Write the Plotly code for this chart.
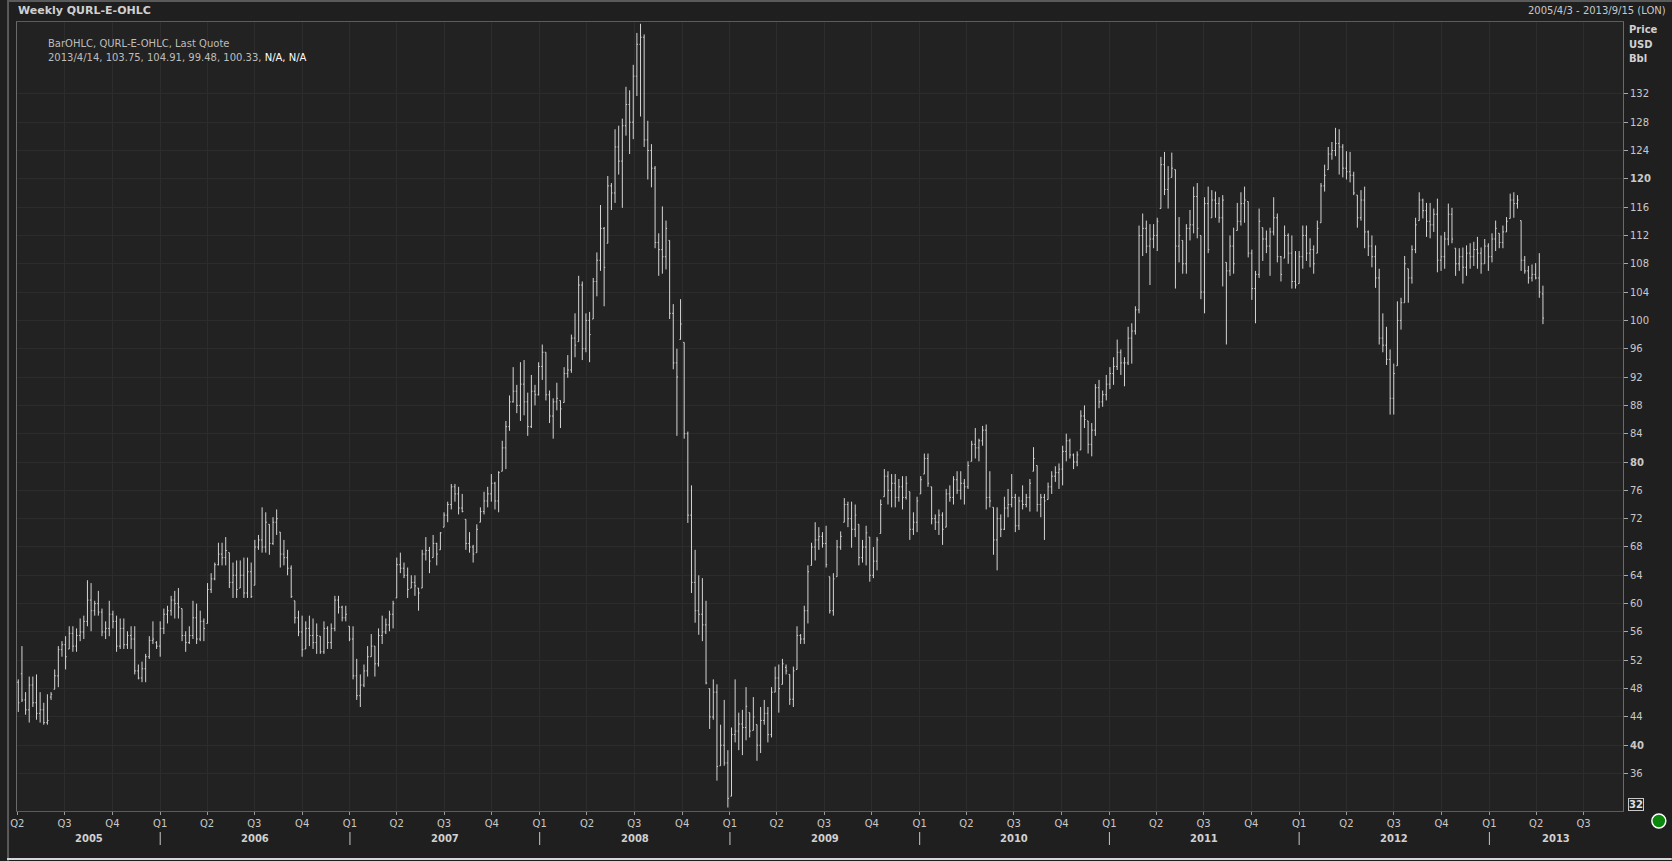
import pandas as pd
import plotly.graph_objects as go

# ---------------- data (weekly bars) ----------------
start_date = "2005-04-03"
n_weeks = 420

highs = [
 49.3,54.0,47.5,49.7,49.7,50.0,47.5,46.0,47.2,47.5, 50.7,54.0,54.7,55.4,56.8,56.8,56.5,57.9,58.3,63.3,
 62.9,60.4,61.8,59.3,57.5,60.4,59.0,58.3,57.9,57.9, 56.1,56.8,56.8,51.4,51.8,52.9,55.4,57.5,54.7,57.5,
 59.3,59.7,61.1,61.8,62.2,59.3,56.1,56.8,60.4,60.0, 59.0,57.9,62.9,64.3,65.8,68.6,68.6,69.4,67.2,65.8,
 66.1,66.1,66.5,66.5,65.8,69.0,69.7,73.6,72.9,71.2, 72.2,73.3,70.1,69.0,67.6,65.4,60.4,59.0,58.3,57.5,
 58.3,57.9,57.2,55.4,57.5,56.8,57.2,61.1,61.1,59.7, 59.7,56.8,56.8,52.2,50.0,51.4,54.0,55.7,54.0,56.5,
 58.3,57.9,59.0,60.4,66.5,67.2,65.8,65.1,64.0,64.0, 62.2,67.6,69.4,68.0,69.7,68.6,70.1,72.9,74.4,76.9,
 76.9,76.5,75.5,71.9,70.1,68.3,71.2,73.6,75.8,76.5, 78.3,77.2,78.7,83.0,85.8,89.4,93.4,90.9,94.1,94.4,
 89.8,92.3,90.9,94.1,96.6,95.5,90.1,89.0,91.2,88.7, 93.4,95.1,98.0,101.0,106.3,105.5,101.0,101.2,106.0,109.6,
 116.3,113.2,120.4,119.4,127.0,127.5,128.5,133.0,132.5,136.1, 140.6,141.9,140.4,128.2,124.9,121.8,112.3,116.1,114.1,111.3,
 102.3,96.0,103.0,96.9,84.3,76.7,67.6,64.0,63.6,60.4, 48.0,49.3,48.6,42.9,46.4,39.3,42.5,49.3,44.6,45.0,
 48.2,44.6,46.8,42.9,45.4,46.4,45.4,48.2,51.1,51.4, 52.2,51.4,50.0,51.1,56.8,55.7,59.7,65.4,68.6,71.5,
 70.8,70.1,71.0,63.8,64.3,69.0,70.2,74.9,74.4,74.4, 74.0,71.2,69.0,71.0,69.4,68.0,69.4,74.7,79.0,78.7,
 78.3,78.3,77.6,78.0,78.0,75.8,72.9,75.1,78.0,81.2, 81.2,76.5,72.6,73.3,72.9,76.2,76.7,78.0,78.7,78.7,
 77.6,80.1,83.0,84.8,83.3,85.1,85.3,78.7,73.6,73.6, 72.6,75.1,76.2,78.3,75.5,75.1,76.7,75.5,77.6,82.1,
 79.5,75.5,75.5,77.1,78.7,79.4,79.8,82.3,84.0,83.3, 81.2,81.5,87.3,88.0,85.8,85.5,91.0,91.6,90.1,92.3,
 93.4,94.8,97.3,95.9,94.8,99.1,99.6,102.0,113.4,115.1, 114.1,113.6,113.6,114.5,123.1,123.8,121.8,123.7,121.3,114.6,
 111.3,113.6,115.6,118.9,119.4,112.0,117.4,118.9,118.4,118.2, 117.4,117.7,108.2,112.0,113.1,116.6,118.1,118.9,116.8,110.0,
 107.0,115.8,113.1,112.7,113.1,117.4,115.1,109.1,113.4,112.3, 112.0,109.8,109.8,113.4,113.4,111.6,110.6,114.1,119.4,122.0,
 124.5,125.2,127.2,127.0,124.9,123.9,123.8,121.0,117.7,118.4, 118.9,112.7,112.0,110.6,107.3,101.0,99.1,95.9,93.9,102.7,
 103.2,109.1,107.3,110.6,114.5,118.1,117.2,116.6,116.6,115.8, 117.2,112.0,112.5,116.5,115.9,110.2,110.2,110.3,110.6,110.9,
 111.1,111.8,110.3,111.5,110.9,112.3,114.1,112.3,113.4,114.6, 117.9,118.1,117.7,114.1,109.1,107.7,107.9,108.1,109.5,104.91,
]

lows = [
 44.7,46.1,44.3,43.2,45.4,43.6,43.2,42.9,42.9,46.4, 47.9,48.2,52.5,50.7,53.6,53.2,53.2,54.7,55.0,56.8,
 56.1,58.3,58.3,55.4,55.0,55.4,56.5,53.2,53.6,53.6, 53.6,53.6,50.0,49.3,48.9,48.9,52.2,54.3,53.6,52.5,
 55.7,57.2,58.3,57.9,57.9,54.7,53.2,54.3,55.0,54.3, 54.7,54.7,57.2,61.5,63.3,65.4,65.4,65.4,62.2,60.8,
 60.8,62.2,60.8,60.8,60.8,62.6,67.6,67.2,67.2,66.9, 68.3,69.7,65.1,65.4,64.0,60.8,57.2,55.4,52.5,53.6,
 54.0,53.6,52.9,52.9,52.9,53.6,53.6,56.1,58.6,57.5, 57.5,54.7,49.3,46.4,45.4,48.2,49.7,52.5,49.7,51.1,
 54.3,55.7,56.1,56.5,60.8,64.3,63.6,60.8,62.2,61.1, 59.0,62.2,66.1,64.3,66.5,65.4,67.6,70.8,71.5,73.3,
 74.4,72.6,72.9,67.6,67.2,65.8,67.2,71.5,72.6,73.6, 74.4,73.3,72.9,78.7,79.0,84.4,88.4,86.9,85.8,86.6,
 83.7,84.8,88.0,89.4,91.6,88.7,85.5,83.3,87.3,84.8, 88.4,91.9,92.6,94.8,97.0,94.4,95.5,94.1,100.2,103.4,
 107.0,102.0,110.9,115.6,116.6,120.6,115.9,126.1,123.5,125.6, 131.7,128.8,124.5,119.9,118.8,110.2,106.3,106.6,107.2,100.2,
 93.1,83.7,97.3,83.3,71.4,61.5,57.3,55.6,54.7,48.6, 42.3,43.6,35.0,37.1,37.1,31.2,32.8,40.4,39.3,38.6,
 40.7,41.1,42.1,37.8,38.9,42.9,40.4,41.1,47.5,44.6, 48.6,50.0,45.7,45.4,50.7,54.3,54.3,57.2,65.4,66.1,
 67.6,67.9,65.1,58.6,58.3,63.8,67.6,71.5,70.8,67.9, 69.4,65.4,65.8,65.4,63.1,63.6,64.7,69.9,75.1,74.0,
 73.6,73.6,74.4,73.3,74.7,69.0,69.7,70.1,75.5,78.3, 76.5,71.2,70.4,69.7,68.3,70.8,74.4,74.0,75.5,74.7,
 74.0,76.2,80.1,80.5,80.1,82.3,73.3,73.6,66.9,64.7, 69.4,70.4,72.2,73.6,70.1,70.4,73.3,73.6,73.0,78.7,
 73.0,72.2,69.0,74.7,75.5,77.2,76.2,76.7,80.1,80.5, 79.0,79.4,81.7,84.8,81.2,80.8,83.7,87.6,87.8,88.7,
 90.3,90.9,93.0,92.3,90.7,93.7,93.9,98.0,101.0,109.1, 109.5,105.0,110.2,109.8,115.8,117.7,115.8,120.2,104.5,108.2,
 106.6,106.6,111.3,112.3,111.6,103.0,101.0,109.5,114.5,114.5, 113.8,104.8,96.6,106.3,106.6,112.7,113.4,113.8,108.9,102.9,
 99.6,106.0,108.4,109.5,106.3,112.0,108.2,105.5,108.8,108.0, 104.5,104.5,105.2,107.3,108.4,107.5,106.6,109.5,113.8,118.2,
 121.3,122.7,123.2,120.6,120.2,119.9,119.5,117.7,113.1,114.1, 110.2,109.1,107.5,104.6,96.6,95.5,93.7,86.7,86.7,93.6,
 98.7,102.5,102.5,105.2,109.5,114.1,114.4,111.8,111.6,112.5, 106.8,107.0,107.3,110.6,110.9,106.3,107.0,105.2,106.3,107.3,
 107.7,107.3,106.6,108.0,107.0,108.2,109.8,110.2,110.2,112.5, 114.4,114.5,115.8,107.0,106.6,105.2,105.5,105.8,103.2,99.48,
]

opens = [
 48.9,50.1,46.4,45.0,48.5,46.0,44.5,45.0,43.2,46.8, 47.9,49.8,53.5,54.2,53.6,55.8,54.0,55.5,56.0,57.5,
 60.5,59.0,60.0,58.8,56.0,56.5,58.5,57.5,54.0,56.5, 54.2,55.5,55.0,50.5,49.5,50.8,52.5,54.8,54.5,54.0,
 56.5,58.5,59.0,60.5,60.0,59.3,55.5,54.5,55.5,58.0, 55.0,57.5,57.2,62.0,63.5,65.5,67.0,66.5,67.2,63.0,
 64.0,62.2,64.0,61.5,64.5,62.6,68.0,69.0,68.0,71.2, 68.5,71.5,70.1,67.0,66.5,65.0,60.4,58.0,56.0,53.6,
 56.5,55.5,54.5,55.4,53.2,56.5,54.5,56.5,60.5,59.5, 58.0,56.8,55.0,49.8,47.0,48.5,50.5,52.5,54.0,51.5,
 55.5,56.0,57.0,58.5,60.8,65.5,65.0,64.0,62.2,63.0, 62.2,62.2,67.0,67.5,66.5,68.5,67.6,70.8,72.5,74.0,
 76.5,75.5,73.5,71.9,68.5,68.0,67.2,71.5,73.0,74.5, 75.5,77.0,74.5,78.7,82.0,85.0,88.5,90.0,88.0,91.0,
 88.5,85.0,90.0,89.5,93.5,95.5,89.5,86.5,88.5,88.7, 88.4,92.5,93.0,97.5,97.0,105.0,96.0,100.0,100.2,105.5,
 108.5,113.0,110.9,119.0,118.0,124.5,122.5,127.5,130.5,128.0, 134.5,139.0,140.0,125.5,124.0,121.5,111.0,110.0,109.0,111.3,
 101.0,94.0,97.3,96.9,84.0,72.5,63.0,59.0,58.5,57.0, 48.0,44.0,47.5,37.1,40.0,37.5,32.8,41.5,42.0,43.0,
 42.5,44.6,42.1,42.9,40.0,43.5,44.5,41.5,47.5,49.5, 48.6,51.0,50.0,46.5,50.7,55.5,55.0,59.0,65.4,68.0,
 69.0,69.5,68.5,63.8,59.0,63.8,68.0,71.5,74.0,72.0, 70.5,71.2,66.5,68.0,69.4,64.0,66.0,69.9,75.1,78.0,
 76.0,77.0,75.0,76.5,75.0,75.8,70.5,71.5,75.5,78.3, 80.5,76.5,72.0,71.5,72.5,70.8,75.5,75.0,77.5,76.0,
 77.0,76.5,80.1,82.5,82.0,83.0,84.5,75.0,73.6,69.0, 72.0,70.5,73.5,74.0,75.0,71.0,74.5,74.0,75.0,78.7,
 79.5,74.0,75.0,74.7,76.5,78.0,78.5,79.0,81.5,83.0, 81.0,80.0,81.7,86.5,85.8,82.5,84.5,90.5,88.5,89.5,
 91.0,92.5,93.5,95.5,94.0,94.0,97.5,98.5,101.5,112.0, 113.0,110.5,111.5,112.0,115.8,122.0,118.5,120.2,121.3,110.5,
 111.3,108.0,113.0,113.5,117.5,112.0,104.0,116.5,114.5,117.0, 116.5,114.5,108.2,107.0,110.5,112.7,114.0,116.5,116.8,109.5,
 104.5,106.5,113.1,111.5,110.5,112.5,114.5,109.0,108.8,112.0, 109.5,105.5,105.2,109.0,112.0,109.5,110.0,109.5,113.8,119.0,
 121.3,123.5,124.0,125.0,124.5,121.5,121.0,120.5,117.7,114.5, 117.0,112.5,110.5,109.0,106.0,97.5,96.5,94.5,89.0,93.6,
 100.0,102.5,107.3,106.0,110.0,114.1,117.0,115.5,114.0,113.5, 115.0,108.5,109.0,111.5,115.0,110.2,108.0,109.0,107.5,109.5,
 109.0,110.0,109.5,108.0,110.5,109.0,111.5,112.3,111.0,112.5, 114.4,117.0,116.5,114.1,108.5,107.0,106.0,106.5,106.0,103.75,
]

closes = [
 46.0,46.4,45.0,48.5,46.0,44.5,45.0,43.2,43.5,47.2, 49.8,53.5,54.2,52.5,55.8,54.0,55.5,56.0,57.5,60.5,
 59.0,60.0,58.8,56.0,56.5,58.5,57.5,54.0,56.5,54.2, 55.5,55.0,50.5,49.5,50.8,52.5,54.8,55.0,54.0,56.5,
 58.5,59.0,60.5,60.0,59.5,55.5,54.5,55.5,58.0,55.0, 57.5,56.5,62.0,63.5,65.5,67.0,66.5,67.5,63.0,64.0,
 62.0,64.0,61.5,64.5,61.0,68.0,69.0,68.0,71.5,68.5, 71.5,72.0,67.0,66.5,65.0,61.0,58.0,56.0,53.5,56.5,
 55.5,54.5,55.5,53.2,56.5,54.5,56.5,60.5,59.5,58.0, 58.5,55.0,49.8,47.0,48.5,50.5,52.5,54.0,51.5,55.5,
 56.0,57.0,58.5,60.0,65.5,65.0,64.0,62.0,63.0,62.5, 61.5,67.0,67.5,66.0,68.5,67.0,70.0,72.5,74.0,76.5,
 75.5,73.5,73.0,68.5,68.0,67.0,70.5,73.0,74.5,75.5, 77.0,74.5,78.5,82.0,85.0,88.5,90.0,88.0,91.0,88.5,
 85.0,90.0,89.5,93.5,95.5,89.5,86.5,88.5,89.0,87.5, 92.5,93.0,97.5,96.5,105.0,96.0,100.0,98.0,105.5,108.5,
 113.0,107.5,119.0,118.0,124.5,122.5,127.5,130.5,128.0,134.5, 139.0,140.0,125.5,124.0,121.5,111.0,110.0,109.0,113.0,101.0,
 94.0,92.0,99.5,84.0,72.5,63.0,59.0,58.5,57.0,48.8, 44.0,47.5,37.0,40.0,37.5,32.5,41.5,42.0,43.0,42.5,
 45.5,42.0,44.0,40.0,43.5,44.5,41.5,47.5,49.5,48.0, 51.5,50.5,46.5,50.5,55.5,55.0,59.0,64.5,68.0,69.0,
 69.5,68.5,65.5,59.0,63.5,68.0,69.5,74.0,72.0,70.5, 72.5,66.5,68.0,70.0,64.0,66.0,69.0,74.0,78.0,76.0,
 77.0,75.0,76.5,75.0,77.0,70.5,71.5,74.5,77.5,80.5, 77.0,72.0,71.5,72.5,70.5,75.5,75.0,77.5,76.0,77.0,
 76.5,79.5,82.5,82.0,83.0,84.5,75.0,74.5,69.0,72.0, 70.5,73.5,74.0,75.0,71.0,74.5,74.0,75.0,77.0,80.5,
 74.0,75.0,74.5,76.5,78.0,78.5,79.0,81.5,83.0,81.0, 80.0,81.0,86.5,86.0,82.5,84.5,90.5,88.5,89.5,91.0,
 92.5,93.5,95.5,94.0,94.0,97.5,98.5,101.5,112.0,113.0, 110.5,111.5,112.0,114.0,122.0,118.5,120.0,121.5,110.5,112.0,
 108.0,113.0,113.5,117.5,113.0,104.0,116.5,110.0,117.0,116.5, 114.5,117.0,107.0,110.5,108.0,114.0,116.5,117.0,109.5,104.5,
 106.5,114.0,111.5,110.5,112.5,114.5,109.0,106.5,112.0,109.5, 105.5,105.0,109.0,112.0,109.5,110.0,108.0,113.0,119.0,120.5,
 123.5,124.0,125.0,124.5,121.5,121.0,120.5,118.0,114.5,117.0, 112.5,110.5,109.0,106.0,97.5,96.5,94.5,89.0,92.5,100.0,
 102.5,108.0,106.0,110.0,113.5,117.0,115.5,114.0,113.5,115.0, 108.5,109.0,111.5,115.0,111.5,108.0,109.0,107.5,109.5,109.0,
 110.0,109.5,108.0,110.5,109.0,111.5,113.0,111.0,112.5,114.0, 117.0,116.5,117.0,108.5,107.0,106.0,106.5,106.0,104.0,100.33,
]

quarter_starts = pd.date_range("2005-04-01", "2013-07-01", freq="QS")
quarter_labels = ["Q%d" % q.quarter for q in quarter_starts]
years = list(range(2005, 2014))
year_label_dates = ["2005-08-17"] + ["%d-07-02" % y for y in range(2006, 2013)] + ["2013-05-09"]
year_separators = ["%d-01-01" % y for y in range(2006, 2014)]

y_tick_vals = list(range(36, 133, 4))
y_tick_text = ["<b>%d</b>" % v if v in (40, 80, 120) else str(v) for v in y_tick_vals]

dates = pd.date_range(start_date, periods=n_weeks, freq="7D")

# ---------------- figure ----------------
W, H = 1672, 861
ML, MR, MT, MB = 10, 49, 22, 50
PW, PH = W - ML - MR, H - MT - MB


def px(xpix):
    return (xpix - ML) / PW


def py(ypix):
    return (H - MB - ypix) / PH


FONT = "DejaVu Sans"
TXT = "#c8c8c8"

fig = go.Figure()
fig.add_trace(go.Ohlc(
    x=dates, open=opens, high=highs, low=lows, close=closes,
    increasing=dict(line=dict(color="#d4d4d4", width=1)),
    decreasing=dict(line=dict(color="#d4d4d4", width=1)),
    tickwidth=0.3, showlegend=False, hoverinfo="skip",
))

# last-price marker on the price axis
fig.add_trace(go.Scatter(
    x=["2013-09-24"], y=[closes[-1]], mode="markers",
    marker=dict(symbol="diamond", size=7, color="#ffffff"),
    cliponaxis=False, showlegend=False, hoverinfo="skip",
))

fig.update_layout(
    width=W, height=H,
    margin=dict(l=ML, r=MR, t=MT, b=MB),
    paper_bgcolor="#1f1f1f", plot_bgcolor="#222222",
    font=dict(family=FONT, size=10, color=TXT),
    showlegend=False,
    xaxis=dict(
        type="date", range=["2005-03-31 12:00", "2013-09-15"],
        rangeslider=dict(visible=False),
        tickvals=list(quarter_starts), ticktext=quarter_labels,
        tickangle=0,
        ticks="outside", ticklen=3, tickcolor="#9a9a9a",
        showgrid=True, gridcolor="#2c2c2c", gridwidth=1,
        showline=True, linecolor="#5c5c5c", linewidth=1, mirror=True,
        tickfont=dict(family=FONT, size=10, color=TXT),
        zeroline=False, fixedrange=True,
    ),
    yaxis=dict(
        range=[30.71, 142.15], side="right",
        tickvals=y_tick_vals, ticktext=y_tick_text,
        ticks="outside", ticklen=4, tickcolor="#a8a8a8",
        showgrid=True, gridcolor="#2c2c2c", gridwidth=1,
        showline=True, linecolor="#6a6a6a", linewidth=1, mirror=True,
        tickfont=dict(family=FONT, size=10, color=TXT),
        zeroline=False, fixedrange=True,
    ),
)

ann = []
# title bar texts
ann.append(dict(text="<b>Weekly QURL-E-OHLC</b>", x=px(9), y=py(11), xref="paper", yref="paper",
                xanchor="left", yanchor="middle", showarrow=False,
                font=dict(family=FONT, size=11, color="#d0d0d0")))
ann.append(dict(text="2005/4/3 - 2013/9/15 (LON)", x=px(1668), y=py(11), xref="paper", yref="paper",
                xanchor="right", yanchor="middle", showarrow=False,
                font=dict(family=FONT, size=10, color=TXT)))
for label, ypix in (("Price", 29), ("USD", 44), ("Bbl", 59)):
    ann.append(dict(text="<b>%s</b>" % label, x=px(1627), y=py(ypix), xref="paper", yref="paper",
                    xanchor="left", yanchor="middle", showarrow=False,
                    font=dict(family=FONT, size=10, color="#d0d0d0")))
# legend text
ann.append(dict(text="BarOHLC, QURL-E-OHLC, Last Quote", x=px(39), y=py(43), xref="paper", yref="paper",
                xanchor="left", yanchor="middle", showarrow=False,
                font=dict(family=FONT, size=10, color="#bdbdbd")))
ann.append(dict(text="2013/4/14, %.2f, %.2f, %.2f, %.2f, <span style='color:#ffffff'>N/A, N/A</span>"
                % (opens[-1], highs[-1], lows[-1], closes[-1]),
                x=px(39), y=py(57), xref="paper", yref="paper",
                xanchor="left", yanchor="middle", showarrow=False,
                font=dict(family=FONT, size=10, color="#bdbdbd")))
# year labels
for yr, d in zip(years, year_label_dates):
    ann.append(dict(text="<b>%d</b>" % yr, x=d, y=py(838), xref="x", yref="paper",
                    xanchor="center", yanchor="middle", showarrow=False,
                    font=dict(family=FONT, size=10, color="#d0d0d0")))
# boxed low tick label
ann.append(dict(text="<b>32</b>", x=px(1636), y=py(804), xref="paper", yref="paper",
                xanchor="center", yanchor="middle", showarrow=False,
                bordercolor="#c8c8c8", borderwidth=1, borderpad=0,
                font=dict(family=FONT, size=10, color="#e0e0e0")))
fig.update_layout(annotations=ann)

shapes = []
for d in year_separators:
    shapes.append(dict(type="line", xref="x", yref="paper", x0=d, x1=d,
                       y0=py(832), y1=py(845), line=dict(color="#c8c8c8", width=1)))
# outer window frame
shapes.append(dict(type="line", xref="paper", yref="paper", x0=px(0), x1=px(W), y0=py(1), y1=py(1),
                   line=dict(color="#5a5a5a", width=2)))
shapes.append(dict(type="line", xref="paper", yref="paper", x0=px(1), x1=px(1), y0=py(0), y1=py(H),
                   line=dict(color="#5a5a5a", width=2)))
shapes.append(dict(type="line", xref="paper", yref="paper", x0=px(0), x1=px(W), y0=py(859), y1=py(859),
                   line=dict(color="#d8d8d8", width=2)))
# green status light
shapes.append(dict(type="circle", xref="paper", yref="paper",
                   x0=px(1652), x1=px(1666), y0=py(814), y1=py(828),
                   fillcolor="#0b870b", line=dict(color="#ffffff", width=1.5)))
fig.update_layout(shapes=shapes)

fig.write_html(
    "out.html",
    config={"displayModeBar": False, "staticPlot": True},
    post_script="document.body.style.margin='0';document.body.style.overflow='hidden';",
)
